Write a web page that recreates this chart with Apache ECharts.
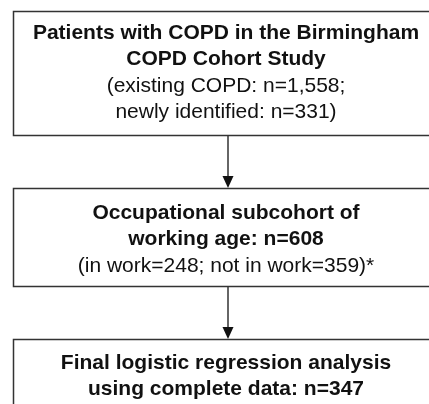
<!DOCTYPE html>
<html>
<head>
<meta charset="utf-8">
<script src="https://cdn.jsdelivr.net/npm/echarts@6/dist/echarts.min.js"></script>
<style>
  html, body { margin: 0; padding: 0; background: #fff; }
  #main { width: 429px; height: 404px; }
</style>
</head>
<body>
<div id="main"></div>
<script>
// box texts (bold lines, then normal lines)
var boldLines = [
  ['Patients with COPD in the Birmingham', 'COPD Cohort Study'],
  ['Occupational subcohort of', 'working age: n=608'],
  ['Final logistic regression analysis', 'using complete data: n=347']
];
var normalLines = [
  ['(existing COPD: n=1,558;', 'newly identified: n=331)'],
  ['(in work=248; not in work=359)*'],
  []
];
// box top / bottom (px) and first text line centre
var boxTop = [11, 188, 339];
var boxBottom = [135, 286, 430];
var firstLine = [33, 213, 363];

var dom = document.getElementById('main');
var myChart = echarts.init(dom);
var cx = 228, tx = 226, left = 13.5, right = 443;
var lineColor = '#333';
var fontFamily = 'Arial, "Liberation Sans", sans-serif';

var elements = [];
for (var i = 0; i < boldLines.length; i++) {
  elements.push({
    type: 'rect',
    shape: { x: left, y: boxTop[i] + 0.5, width: right - left, height: boxBottom[i] - boxTop[i] },
    style: { fill: '#fff', stroke: lineColor, lineWidth: 1.5 }
  });
  var y = firstLine[i];
  var lines = boldLines[i].map(function (t) { return { t: t, b: true }; })
    .concat(normalLines[i].map(function (t) { return { t: t, b: false }; }));
  lines.forEach(function (ln, k) {
    elements.push({
      type: 'text',
      x: tx, y: y,
      style: {
        text: ln.t,
        fill: '#111',
        font: (ln.b ? 'bold 21px ' : '21px ') + fontFamily,
        textAlign: 'center',
        textVerticalAlign: 'middle'
      }
    });
    y += 26.5;
  });
  // arrow to the next box
  if (i < boldLines.length - 1) {
    var y0 = boxBottom[i] + 0.5, y1 = boxTop[i + 1];
    elements.push({
      type: 'line',
      shape: { x1: cx, y1: y0, x2: cx, y2: y1 - 10 },
      style: { stroke: lineColor, lineWidth: 1.5 }
    });
    elements.push({
      type: 'polygon',
      shape: { points: [[cx - 5.5, y1 - 12], [cx + 5.5, y1 - 12], [cx, y1]] },
      style: { fill: '#111' }
    });
  }
}

var option = {
  backgroundColor: '#fff',
  animation: false,
  graphic: { elements: elements }
};
myChart.setOption(option, true);
</script>
</body>
</html>
